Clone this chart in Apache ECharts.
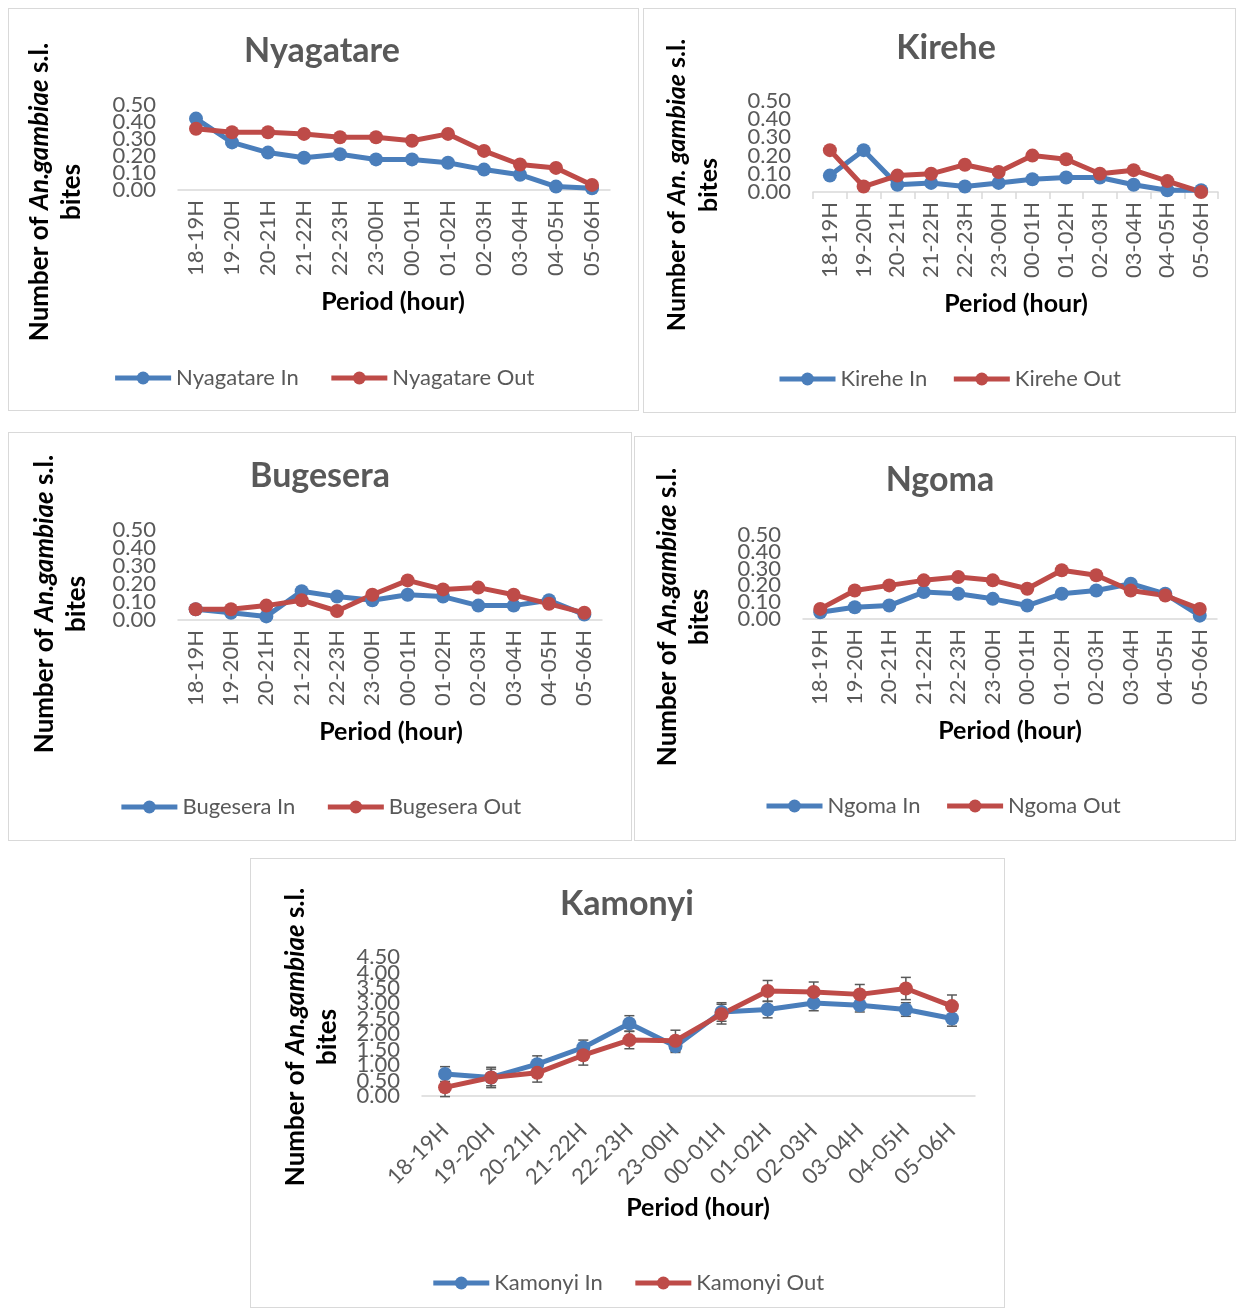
<!DOCTYPE html>
<html>
<head>
<meta charset="utf-8">
<script src="https://cdn.jsdelivr.net/npm/echarts@6/dist/echarts.min.js"></script>
<style>
body { margin: 0; background: #fff; }
#page { position: relative; width: 1236px; height: 1308px; }
.panel { position: absolute; box-sizing: border-box; border: 1px solid #d9d9d9; background: #fff; }
</style>
</head>
<body>
<div id="page">
  <div class="panel" id="nyagatare" style="left:8px;top:8px;width:631px;height:403px"></div>
  <div class="panel" id="kirehe" style="left:643px;top:8px;width:593px;height:405px"></div>
  <div class="panel" id="bugesera" style="left:8px;top:432px;width:624px;height:409px"></div>
  <div class="panel" id="ngoma" style="left:634px;top:436px;width:602px;height:405px"></div>
  <div class="panel" id="kamonyi" style="left:250px;top:858px;width:755px;height:450px"></div>
</div>
<script>
const hours = ['18-19H', '19-20H', '20-21H', '21-22H', '22-23H', '23-00H', '00-01H', '01-02H', '02-03H', '03-04H', '04-05H', '05-06H']

const nyagatareIn = [0.42, 0.28, 0.22, 0.19, 0.21, 0.18, 0.18, 0.16, 0.12, 0.09, 0.02, 0.01]
const nyagatareOut = [0.36, 0.34, 0.34, 0.33, 0.31, 0.31, 0.29, 0.33, 0.23, 0.15, 0.13, 0.03]
const kireheIn = [0.09, 0.23, 0.04, 0.05, 0.03, 0.05, 0.07, 0.08, 0.08, 0.04, 0.01, 0.01]
const kireheOut = [0.23, 0.03, 0.09, 0.10, 0.15, 0.11, 0.20, 0.18, 0.10, 0.12, 0.06, 0.00]
const bugeseraIn = [0.06, 0.04, 0.02, 0.16, 0.13, 0.11, 0.14, 0.13, 0.08, 0.08, 0.11, 0.03]
const bugeseraOut = [0.06, 0.06, 0.08, 0.11, 0.05, 0.14, 0.22, 0.17, 0.18, 0.14, 0.09, 0.04]
const ngomaIn = [0.04, 0.07, 0.08, 0.16, 0.15, 0.12, 0.08, 0.15, 0.17, 0.21, 0.15, 0.02]
const ngomaOut = [0.06, 0.17, 0.20, 0.23, 0.25, 0.23, 0.18, 0.29, 0.26, 0.17, 0.14, 0.06]
const kamonyiIn = [0.71, 0.60, 1.03, 1.57, 2.35, 1.61, 2.72, 2.80, 3.01, 2.94, 2.80, 2.51]
const kamonyiOut = [0.28, 0.60, 0.75, 1.32, 1.81, 1.79, 2.65, 3.40, 3.37, 3.29, 3.48, 2.91]
const kamonyiInErr = [0.24, 0.27, 0.27, 0.24, 0.25, 0.20, 0.30, 0.27, 0.25, 0.22, 0.22, 0.25]
const kamonyiOutErr = [0.30, 0.33, 0.30, 0.32, 0.28, 0.34, 0.32, 0.34, 0.32, 0.32, 0.36, 0.36]

const BLUE = '#4a7ebb'
const RED = '#be4b48'
const GREY = '#595959'
const FONT = 'Lato'

function errorBars(name, values, errs) {
  return {
    type: 'custom',
    name: name,
    z: 1,
    data: values.map((v, i) => [i, v, errs[i]]),
    encode: { x: 0, y: 1 },
    renderItem: (params, api) => {
      const i = api.value(0), v = api.value(1), e = api.value(2)
      const top = api.coord([i, v + e])
      const bot = api.coord([i, v - e])
      const w = 5
      const style = { stroke: GREY, lineWidth: 1.5 }
      return {
        type: 'group',
        children: [
          { type: 'line', shape: { x1: top[0], y1: top[1], x2: bot[0], y2: bot[1] }, style },
          { type: 'line', shape: { x1: top[0] - w, y1: top[1], x2: top[0] + w, y2: top[1] }, style },
          { type: 'line', shape: { x1: bot[0] - w, y1: bot[1], x2: bot[0] + w, y2: bot[1] }, style }
        ]
      }
    }
  }
}

function lineSeries(name, data, color) {
  return {
    name: name,
    type: 'line',
    data: data,
    symbol: 'circle',
    symbolSize: 14,
    lineStyle: { width: 5, color: color },
    itemStyle: { color: color }
  }
}

// the labels sit closer than their own height, so even and odd ticks
// go on two stacked copies of the same axis to keep every label visible
function valueAxis(c, odd) {
  return {
    type: 'value',
    position: 'left',
    min: 0,
    max: c.max,
    interval: c.interval,
    axisLine: { show: false },
    axisTick: { show: false },
    splitLine: { show: false },
    axisLabel: {
      fontSize: 22, color: GREY, margin: 22, fontFamily: FONT,
      showMinLabel: true, showMaxLabel: true,
      formatter: v => (Math.round(v / c.interval) % 2 === (odd ? 1 : 0) ? v.toFixed(2) : '')
    }
  }
}

function plot(id, c) {
  const chart = echarts.init(document.getElementById(id))
  const series = [lineSeries(c.name + ' In', c.inData, BLUE), lineSeries(c.name + ' Out', c.outData, RED)]
  if (c.inErr) {
    series.push(errorBars('errIn', c.inData, c.inErr))
    series.push(errorBars('errOut', c.outData, c.outErr))
  }
  const nameSize = c.nameSize || 26
  const option = {
    animation: false,
    textStyle: { fontFamily: FONT },
    grid: { left: c.grid[0], top: c.grid[1], width: c.grid[2], height: c.grid[3] },
    legend: {
      data: [c.name + ' In', c.name + ' Out'],
      left: c.legend[0],
      top: c.legend[1],
      itemWidth: 56,
      itemHeight: 16,
      itemGap: c.legendGap || 30,
      lineStyle: { width: 5 },
      textStyle: { fontSize: 22, color: GREY, fontFamily: FONT }
    },
    xAxis: {
      type: 'category',
      data: hours,
      boundaryGap: true,
      axisLine: { lineStyle: { color: '#d9d9d9', width: 1.5 } },
      axisTick: { show: !!c.ticks, length: 7, lineStyle: { color: '#d9d9d9', width: 1.5 } },
      axisLabel: { rotate: c.rotate, fontSize: 22, color: GREY, margin: c.rotate === 90 ? 10 : 31, interval: 0, fontFamily: FONT }
    },
    yAxis: [valueAxis(c, false), valueAxis(c, true)],
    graphic: [
      {
        type: 'text', x: c.title[0], y: c.title[1],
        style: { text: c.name, font: 'bold 34px ' + FONT, fill: GREY, align: 'center', verticalAlign: 'middle' }
      },
      {
        type: 'text', x: c.xname[0], y: c.xname[1],
        style: { text: 'Period (hour)', font: 'bold 25px ' + FONT, fill: '#000', align: 'center', verticalAlign: 'middle' }
      },
      {
        type: 'text', x: c.yname[0], y: c.yname[1], rotation: Math.PI / 2,
        style: {
          text: 'Number of {i|' + c.species + '} s.l.\nbites',
          font: 'bold ' + nameSize + 'px ' + FONT,
          fill: '#000',
          lineHeight: 32,
          align: 'center',
          verticalAlign: 'middle',
          rich: { i: { fontStyle: 'italic', fontWeight: 'bold', fontSize: nameSize, fontFamily: FONT, lineHeight: 32, fill: '#000' } }
        }
      }
    ],
    series: series
  }
  chart.setOption(option)
  return chart
}

plot('nyagatare', {
  name: 'Nyagatare', inData: nyagatareIn, outData: nyagatareOut, species: 'An.gambiae',
  max: 0.5, interval: 0.1, rotate: 90,
  grid: [169, 96, 432, 85], title: [313, 42], xname: [384, 293], yname: [47, 183], legend: ['center', 353]
})
plot('kirehe', {
  name: 'Kirehe', inData: kireheIn, outData: kireheOut, species: 'An. gambiae', nameSize: 25,
  max: 0.5, interval: 0.1, rotate: 90, ticks: true,
  grid: [169, 92, 405, 91], title: [302, 39], xname: [372, 295], yname: [49, 176], legend: [128, 354], legendGap: 24
})
plot('bugesera', {
  name: 'Bugesera', inData: bugeseraIn, outData: bugeseraOut, species: 'An.gambiae',
  max: 0.5, interval: 0.1, rotate: 90,
  grid: [169, 97, 424, 90], title: [311, 43], xname: [382, 299], yname: [52, 171], legend: ['center', 358]
})
plot('ngoma', {
  name: 'Ngoma', inData: ngomaIn, outData: ngomaOut, species: 'An.gambiae',
  max: 0.5, interval: 0.1, rotate: 90,
  grid: [168, 98, 414, 84], title: [305, 43], xname: [375, 294], yname: [49, 180], legend: [124, 353], legendGap: 24
})
plot('kamonyi', {
  name: 'Kamonyi', inData: kamonyiIn, outData: kamonyiOut, inErr: kamonyiInErr, outErr: kamonyiOutErr,
  species: 'An.gambiae', max: 4.5, interval: 0.5, rotate: 45,
  grid: [171, 98, 553, 139], title: [376, 45], xname: [447, 349], yname: [61, 178], legend: ['center', 408]
})
</script>
</body>
</html>
